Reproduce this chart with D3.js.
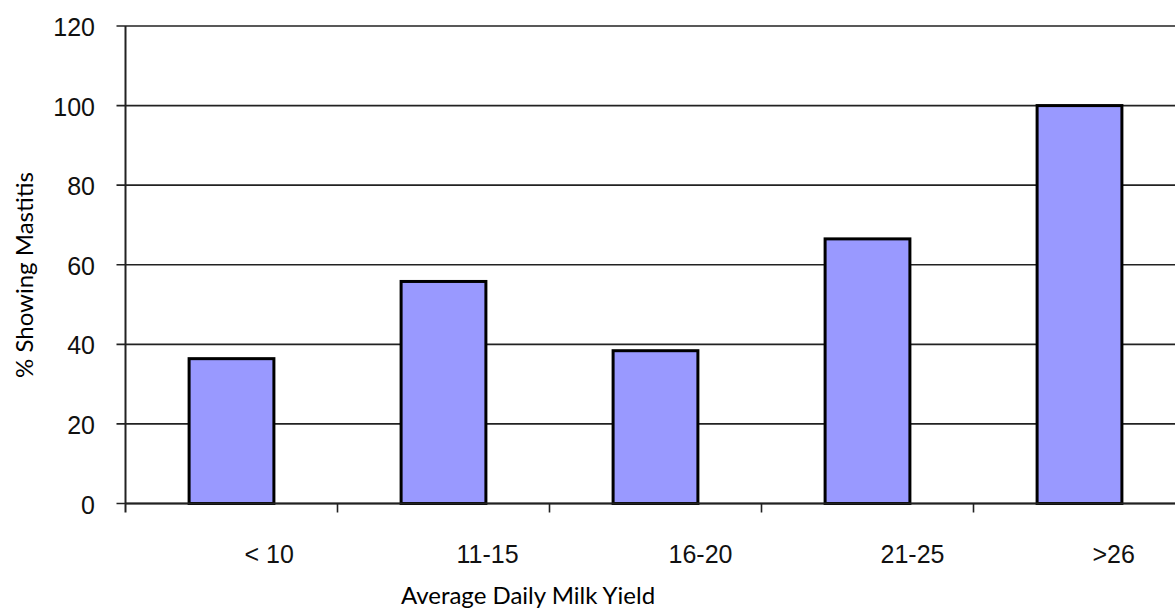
<!DOCTYPE html>
<html><head><meta charset="utf-8">
<script src="https://cdn.jsdelivr.net/npm/d3@7/dist/d3.min.js"></script>
<style>
html,body{margin:0;padding:0;background:#fff;}
svg{display:block;}
</style></head>
<body>
<svg id="chart" width="1175" height="609"></svg>
<script>
const categories = ["< 10", "11-15", "16-20", "21-25", ">26"];
const values = [36.4, 55.8, 38.4, 66.5, 100];
const yTicks = [0, 20, 40, 60, 80, 100, 120];
const yTitle = "% Showing Mastitis";
const xTitle = "Average Daily Milk Yield";

const svg = d3.select("#chart");
const mLeft = 125.5, mTop = 26, mBottom = 503.5;
const step = 212;
const x = d3.scaleBand().domain(categories).range([mLeft, mLeft + step * categories.length]).paddingInner(0.6).paddingOuter(0.3);
const y = d3.scaleLinear().domain([0, 120]).range([mBottom, mTop]);

// gridlines
svg.append("g").selectAll("line").data(yTicks).join("line")
  .attr("x1", mLeft - 9).attr("x2", 1175)
  .attr("y1", d => y(d)).attr("y2", d => y(d))
  .attr("stroke", "#222").attr("stroke-width", 1.6);

// y labels
svg.append("g").selectAll("text").data(yTicks).join("text")
  .attr("x", 95).attr("y", d => y(d) + 10)
  .attr("text-anchor", "end")
  .attr("font-family", "Liberation Sans, Arial, sans-serif")
  .attr("font-size", 25).attr("fill", "#111")
  .text(d => d);

// bars
svg.append("g").selectAll("rect").data(values).join("rect")
  .attr("x", (d, i) => x(categories[i]))
  .attr("y", d => y(d))
  .attr("width", x.bandwidth())
  .attr("height", d => y(0) - y(d))
  .attr("fill", "#9999FF").attr("stroke", "#000").attr("stroke-width", 3);

// y axis line
svg.append("line").attr("x1", mLeft).attr("x2", mLeft).attr("y1", mTop).attr("y2", mBottom + 9)
  .attr("stroke", "#222").attr("stroke-width", 2);
// x axis line
svg.append("line").attr("x1", mLeft).attr("x2", 1175).attr("y1", mBottom).attr("y2", mBottom)
  .attr("stroke", "#222").attr("stroke-width", 2);

// x category ticks
const bandStarts = categories.map((c, i) => mLeft + step * i);
svg.append("g").selectAll("line").data(bandStarts.slice(1)).join("line")
  .attr("x1", d => d).attr("x2", d => d).attr("y1", mBottom).attr("y2", mBottom + 9)
  .attr("stroke", "#222").attr("stroke-width", 1.6);

// x labels
svg.append("g").selectAll("text").data(categories).join("text")
  .attr("x", (d, i) => bandStarts[i] + 119).attr("y", 562.5)
  .attr("text-anchor", "start")
  .attr("font-family", "Liberation Sans, Arial, sans-serif")
  .attr("font-size", 25).attr("fill", "#111")
  .text(d => d);

// axis titles
svg.append("text").attr("x", 528).attr("y", 604)
  .attr("text-anchor", "middle")
  .attr("font-family", "Lato, 'Open Sans', sans-serif")
  .attr("font-size", 24).attr("fill", "#000")
  .text(xTitle);

svg.append("text").attr("transform", "translate(33,275) rotate(-90)")
  .attr("text-anchor", "middle")
  .attr("font-family", "Lato, 'Open Sans', sans-serif")
  .attr("font-size", 24).attr("fill", "#000")
  .text(yTitle);
</script>
</body></html>
